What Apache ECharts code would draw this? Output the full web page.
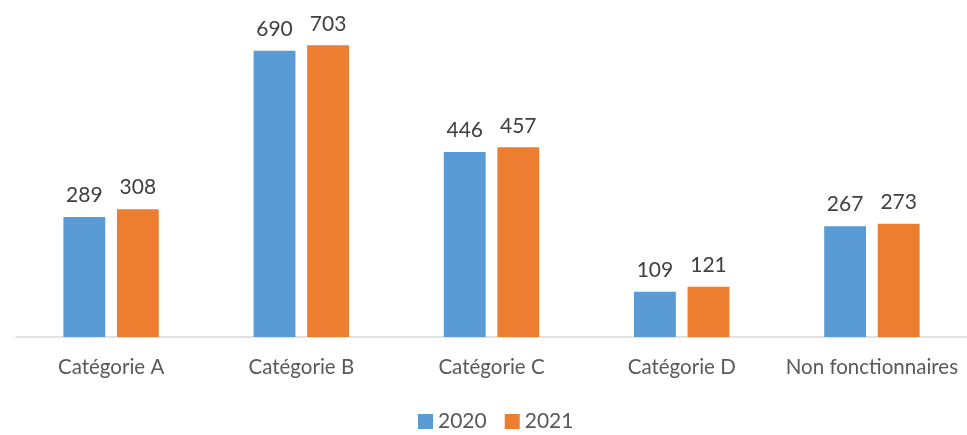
<!DOCTYPE html>
<html>
<head>
<meta charset="utf-8">
<script src="https://cdn.jsdelivr.net/npm/echarts@6/dist/echarts.min.js"></script>
<style>
  html, body { margin: 0; padding: 0; background: #fff; }
  #chart { width: 967px; height: 435px; }
</style>
</head>
<body>
<div id="chart"></div>
<script>
var categories = ['Catégorie A', 'Catégorie B', 'Catégorie C', 'Catégorie D', 'Non fonctionnaires'];
var values2020 = [289, 690, 446, 109, 267];
var values2021 = [308, 703, 457, 121, 273];

var font = 'Lato, "Open Sans", sans-serif';

var chart = echarts.init(document.getElementById('chart'));

var labelStyle = {
    show: true,
    position: 'top',
    distance: 11,
    color: '#404040',
    fontSize: 21,
    fontFamily: font
};

chart.setOption({
    animation: false,
    grid: { left: 16, right: 0, top: 5, bottom: 98 },
    legend: {
        top: 406,
        left: 413,
        itemWidth: 15,
        itemHeight: 15,
        itemGap: 18,
        icon: 'rect',
        textStyle: { color: '#595959', fontSize: 21, fontFamily: font },
        data: ['2020', '2021']
    },
    xAxis: {
        type: 'category',
        data: categories,
        axisLine: { lineStyle: { color: '#d9d9d9', width: 1.5 } },
        axisTick: { show: false },
        axisLabel: {
            color: '#595959',
            fontSize: 20.5,
            fontFamily: font,
            margin: 20,
            interval: 0,
            hideOverlap: false
        }
    },
    yAxis: {
        type: 'value',
        min: 0,
        max: 800,
        show: false,
        splitLine: { show: false }
    },
    series: [
        {
            name: '2020',
            type: 'bar',
            data: values2020,
            barWidth: '22%',
            barGap: '28%',
            itemStyle: { color: '#5b9bd5' },
            label: labelStyle
        },
        {
            name: '2021',
            type: 'bar',
            data: values2021,
            barWidth: '22%',
            itemStyle: { color: '#ed7d31' },
            label: labelStyle
        }
    ]
});
</script>
</body>
</html>
